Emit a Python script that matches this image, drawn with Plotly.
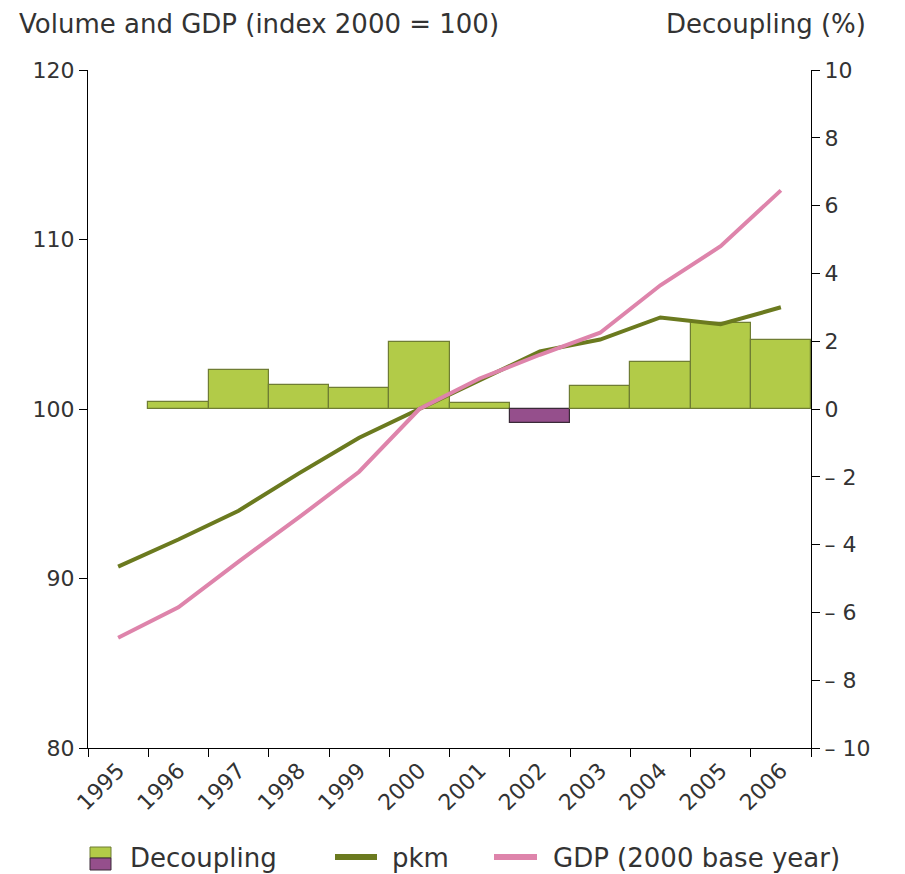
import plotly.graph_objects as go

years = [1995, 1996, 1997, 1998, 1999, 2000, 2001, 2002, 2003, 2004, 2005, 2006]
year_labels = [str(y) for y in years]
pkm = [90.7, 92.3, 94.0, 96.2, 98.3, 100.0, 101.7, 103.4, 104.1, 105.4, 105.0, 106.0]
gdp = [86.5, 88.3, 91.0, 93.6, 96.3, 100.0, 101.8, 103.2, 104.5, 107.3, 109.6, 112.9]
dec_years = [1996, 1997, 1998, 1999, 2000, 2001, 2002, 2003, 2004, 2005, 2006]
decoupling = [0.2, 1.15, 0.72, 0.63, 1.98, 0.19, -0.40, 0.68, 1.40, 2.53, 2.04]
left_ticks = [80, 90, 100, 110, 120]
right_ticks = [-10, -8, -6, -4, -2, 0, 2, 4, 6, 8, 10]
right_ticktext = ["\u2013 10", "\u2013 8", "\u2013 6", "\u2013 4", "\u2013 2", "0", "2", "4", "6", "8", "10"]

GREEN = "#b2cb48"
GREEN_EDGE = "#6f7d33"
PURPLE = "#954f8c"
PURPLE_EDGE = "#3a2a38"
OLIVE = "#6b7a1f"
PINK = "#de84ab"
FONT = "DejaVu Sans"
TXT = "#333333"

bar_colors = [GREEN if v >= 0 else PURPLE for v in decoupling]
bar_edges = [GREEN_EDGE if v >= 0 else PURPLE_EDGE for v in decoupling]

fig = go.Figure()
fig.add_trace(go.Bar(
    x=[str(y) for y in dec_years], y=decoupling, width=1.0,
    marker=dict(color=bar_colors, line=dict(color=bar_edges, width=1.2)),
    yaxis="y", name="Decoupling", showlegend=False,
))
fig.add_trace(go.Scatter(
    x=year_labels, y=pkm, mode="lines", line=dict(color=OLIVE, width=4),
    yaxis="y2", name="pkm", showlegend=False,
))
fig.add_trace(go.Scatter(
    x=year_labels, y=gdp, mode="lines", line=dict(color=PINK, width=4),
    yaxis="y2", name="GDP (2000 base year)", showlegend=False,
))

# page has an 8px body margin; figure coordinates are page coordinates minus 8
OFF = 8
W, H = 905 - OFF, 874 - OFF
PL, PR, PT, PB = 88, 811, 70, 748  # plot area in page pixels
L, R, T, B = PL - OFF, 905 - PR, PT - OFF, 874 - PB
pw, ph = PR - PL, PB - PT


def px(x):
    return (x - PL) / pw


def py(y):
    return (PB - y) / ph


axis_common = dict(showgrid=False, zeroline=False, showline=True, linecolor="#000000",
                   linewidth=1, ticks="outside", ticklen=8, tickcolor="#000000",
                   tickfont=dict(family=FONT, size=22, color=TXT))

fig.update_layout(
    width=W, height=H,
    margin=dict(l=L, r=R, t=T, b=B),
    plot_bgcolor="white", paper_bgcolor="white",
    bargap=0,
    xaxis=dict(type="category", categoryorder="array", categoryarray=year_labels,
               range=[-0.5, len(years) - 0.5], tickson="boundaries", tickangle=-45,
               **axis_common),
    yaxis=dict(side="right", range=[-10, 10], tickvals=right_ticks, ticktext=right_ticktext,
               **axis_common),
    yaxis2=dict(side="left", overlaying="y", range=[80, 120], tickvals=left_ticks,
                **axis_common),
    showlegend=False,
)

# Axis titles at top
fig.add_annotation(text="Volume and GDP (index 2000 = 100)", xref="paper", yref="paper",
                   x=px(18), y=py(OFF), xanchor="left", yanchor="top", showarrow=False,
                   borderpad=0, font=dict(family=FONT, size=26, color=TXT))
fig.add_annotation(text="Decoupling (%)", xref="paper", yref="paper",
                   x=px(867), y=py(OFF), xanchor="right", yanchor="top", showarrow=False,
                   borderpad=0, font=dict(family=FONT, size=26, color=TXT))

# Manual legend
leg_y = 858
fig.add_shape(type="rect", xref="paper", yref="paper", x0=px(90), x1=px(111), y0=py(847), y1=py(858),
              fillcolor=GREEN, line=dict(color=GREEN_EDGE, width=1))
fig.add_shape(type="rect", xref="paper", yref="paper", x0=px(90), x1=px(111), y0=py(858), y1=py(870),
              fillcolor=PURPLE, line=dict(color=PURPLE_EDGE, width=1))
fig.add_annotation(text="Decoupling", xref="paper", yref="paper", x=px(128), y=py(leg_y),
                   xanchor="left", yanchor="middle", showarrow=False,
                   font=dict(family=FONT, size=26, color=TXT))
fig.add_shape(type="line", xref="paper", yref="paper", x0=px(335), x1=px(377), y0=py(leg_y - 1), y1=py(leg_y - 1),
              line=dict(color=OLIVE, width=6))
fig.add_annotation(text="pkm", xref="paper", yref="paper", x=px(390), y=py(leg_y),
                   xanchor="left", yanchor="middle", showarrow=False,
                   font=dict(family=FONT, size=26, color=TXT))
fig.add_shape(type="line", xref="paper", yref="paper", x0=px(494), x1=px(537), y0=py(leg_y - 1), y1=py(leg_y - 1),
              line=dict(color=PINK, width=6))
fig.add_annotation(text="GDP (2000 base year)", xref="paper", yref="paper", x=px(551), y=py(leg_y),
                   xanchor="left", yanchor="middle", showarrow=False,
                   font=dict(family=FONT, size=26, color=TXT))

fig.write_html("out.html")
